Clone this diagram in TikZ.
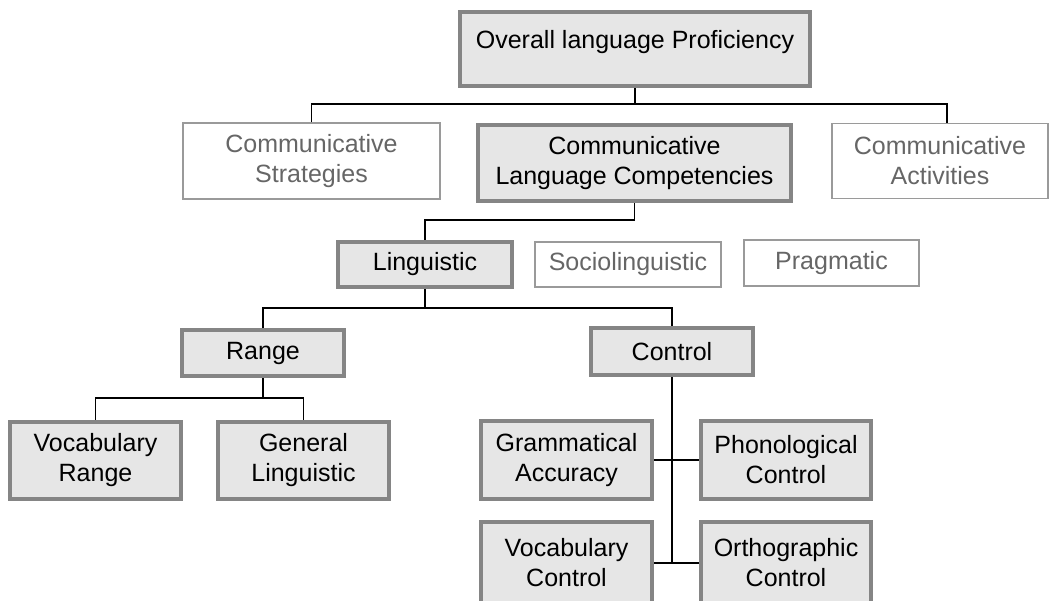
\documentclass[tikz,border=0pt]{standalone}
\usepackage{fontspec}
\setmainfont{Liberation Sans}
\definecolor{boxfill}{HTML}{E6E6E6}
\definecolor{boxline}{HTML}{858585}
\definecolor{paleline}{HTML}{9A9A9A}
\definecolor{paletext}{HTML}{666666}
\begin{document}
\begin{tikzpicture}[
    x=1pt, y=-1pt,
    core/.style={rectangle, draw=boxline, line width=4pt, fill=boxfill, align=center,
        font=\fontsize{25}{30}\selectfont, inner sep=0pt},
    other/.style={rectangle, draw=paleline, line width=1.5pt, fill=white, align=center,
        text=paletext, font=\fontsize{25}{30}\selectfont, inner sep=0pt},
    link/.style={draw=black, line width=1.5pt}
]
    \useasboundingbox (0,0) rectangle (1051,600);

    % Top level
    \node[core, minimum width=350, minimum height=74, text height=17pt, text depth=19pt] (prof) at (635,49) {Overall language Proficiency};

    % Second level
    \node[other, minimum width=257, minimum height=76] (strat) at (311.5,161) {Communicative\\Strategies};
    \node[core, minimum width=313, minimum height=76] (comp) at (634.5,163) {Communicative\\Language Competencies};
    \node[other, minimum width=216, minimum height=75] (activ) at (940,161) {Communicative\\Activities};

    % Competencies
    \node[core, minimum width=174, minimum height=45] (ling) at (425,264.5) {Linguistic};
    \node[other, minimum width=186, minimum height=45] (socio) at (628,264.5) {Sociolinguistic};
    \node[other, minimum width=175, minimum height=46] (prag) at (831.5,263) {Pragmatic};

    % Linguistic
    \node[core, minimum width=162, minimum height=46] (range) at (263,353) {Range};
    \node[core, minimum width=162, minimum height=47] (control) at (672,351.5) {Control};

    % Range
    \node[core, minimum width=171, minimum height=77] (vocrange) at (95.5,460) {Vocabulary\\Range};
    \node[core, minimum width=171, minimum height=77] (genling) at (303.5,460) {General\\Linguistic};

    % Control
    \node[core, minimum width=171, minimum height=78] (gramacc) at (566.5,460) {Grammatical\\Accuracy};
    \node[core, minimum width=170, minimum height=78] (phoncon) at (786,460) {Phonological\\Control};
    \node[core, minimum width=171, minimum height=82] (voccon) at (566.5,563) {Vocabulary\\Control};
    \node[core, minimum width=170, minimum height=82] (orthcon) at (786,563) {Orthographic\\Control};

    % Connections
    \draw[link] (prof.south) -- ++(0,16) coordinate (bustop);
    \draw[link] (strat.north) |- (bustop) -| ([xshift=7pt]activ.north);
    \draw[link] (comp.south) -- ++(0,17) -| (ling.north);
    \draw[link] (ling.south) -- ++(0,19) coordinate (busling);
    \draw[link] (range.north) |- (busling) -| (control.north);
    \draw[link] (range.south) -- ++(0,20) coordinate (busrange);
    \draw[link] (vocrange.north) |- (busrange) -| (genling.north);
    \draw[link] (control.south) -- (control.south |- voccon.east);
    \draw[link] (gramacc.east) -- (phoncon.west);
    \draw[link] (voccon.east) -- (orthcon.west);
\end{tikzpicture}
\end{document}
